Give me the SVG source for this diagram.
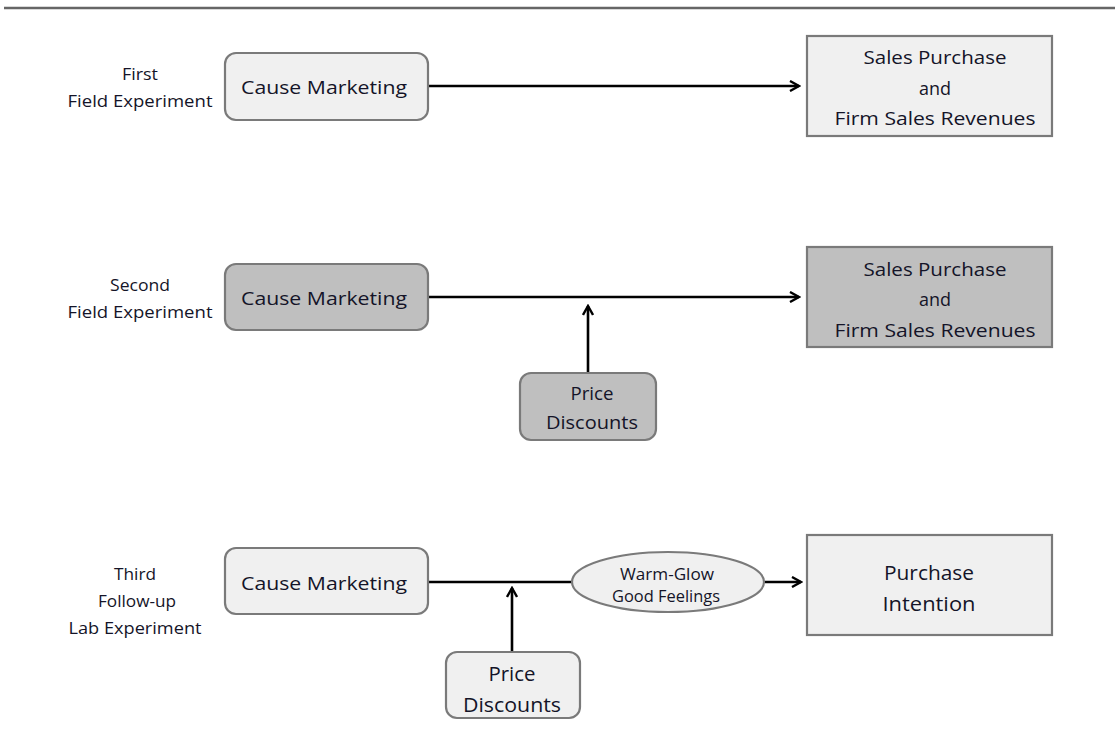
<svg xmlns="http://www.w3.org/2000/svg" width="1115" height="738" viewBox="0 0 1115 738">
<style>
text{font-family:"Open Sans","Liberation Sans",sans-serif;fill:#141428;text-anchor:middle}
.lab{font-size:16.5px}
.box{stroke:#7a7a7a;stroke-width:2.2}
.lt{fill:#f0f0f0}
.dk{fill:#bfbfbf}
.cn{stroke:#000;stroke-width:2.6;fill:none}
</style>
<defs>
<marker id="ah" viewBox="0 0 12 12" refX="10" refY="6" markerWidth="12" markerHeight="12" markerUnits="userSpaceOnUse" orient="auto">
<path d="M1,1 L10,6 L1,11" fill="none" stroke="#000" stroke-width="2.4"/>
</marker>
</defs>
<line x1="4" y1="8" x2="1115" y2="8" stroke="#666" stroke-width="2.4"/>

<g id="labels">
<text class="lab" x="140" y="80" textLength="36" lengthAdjust="spacingAndGlyphs">First</text>
<text class="lab" x="140" y="107" textLength="145" lengthAdjust="spacingAndGlyphs">Field  Experiment</text>
<text class="lab" x="140" y="291" textLength="60" lengthAdjust="spacingAndGlyphs">Second</text>
<text class="lab" x="140" y="318" textLength="145" lengthAdjust="spacingAndGlyphs">Field  Experiment</text>
<text class="lab" x="135" y="580" textLength="42" lengthAdjust="spacingAndGlyphs">Third</text>
<text class="lab" x="137" y="607" textLength="78" lengthAdjust="spacingAndGlyphs">Follow-up</text>
<text class="lab" x="135" y="634" textLength="133" lengthAdjust="spacingAndGlyphs">Lab  Experiment</text>
</g>

<g id="connectors">
<line class="cn" x1="428" y1="86" x2="799" y2="86" marker-end="url(#ah)"/>
<line class="cn" x1="428" y1="297" x2="799" y2="297" marker-end="url(#ah)"/>
<line class="cn" x1="588" y1="373" x2="588" y2="306" marker-end="url(#ah)"/>
<line class="cn" x1="428" y1="582" x2="573" y2="582"/>
<line class="cn" x1="765" y1="582" x2="801" y2="582" marker-end="url(#ah)"/>
<line class="cn" x1="512" y1="652" x2="512" y2="588" marker-end="url(#ah)"/>
</g>

<g id="cm1">
<rect class="box lt" x="225" y="53" width="203" height="67" rx="11"/>
<text x="324" y="94" font-size="19" textLength="166" lengthAdjust="spacingAndGlyphs">Cause  Marketing</text>
</g>
<g id="sales1">
<rect class="box lt" x="807" y="36" width="245" height="100"/>
<text x="935" y="64" font-size="18" textLength="143" lengthAdjust="spacingAndGlyphs">Sales  Purchase</text>
<text x="935" y="95" font-size="18" textLength="32" lengthAdjust="spacingAndGlyphs">and</text>
<text x="935" y="125" font-size="18" textLength="201" lengthAdjust="spacingAndGlyphs">Firm  Sales  Revenues</text>
</g>

<g id="cm2">
<rect class="box dk" x="225" y="264" width="203" height="66" rx="11"/>
<text x="324" y="305" font-size="19" textLength="166" lengthAdjust="spacingAndGlyphs">Cause  Marketing</text>
</g>
<g id="sales2">
<rect class="box dk" x="807" y="247" width="245" height="100"/>
<text x="935" y="276" font-size="18" textLength="143" lengthAdjust="spacingAndGlyphs">Sales  Purchase</text>
<text x="935" y="306" font-size="18" textLength="32" lengthAdjust="spacingAndGlyphs">and</text>
<text x="935" y="337" font-size="18" textLength="201" lengthAdjust="spacingAndGlyphs">Firm  Sales  Revenues</text>
</g>
<g id="pd2">
<rect class="box dk" x="520" y="373" width="136" height="67" rx="11"/>
<text x="592" y="400" font-size="18" textLength="43" lengthAdjust="spacingAndGlyphs">Price</text>
<text x="592" y="429" font-size="18" textLength="92" lengthAdjust="spacingAndGlyphs">Discounts</text>
</g>

<g id="cm3">
<rect class="box lt" x="225" y="548" width="203" height="66" rx="11"/>
<text x="324" y="590" font-size="19" textLength="166" lengthAdjust="spacingAndGlyphs">Cause  Marketing</text>
</g>
<g id="wg">
<ellipse class="box lt" cx="668" cy="582" rx="96" ry="30"/>
<text x="667" y="580" font-size="15.5" textLength="94" lengthAdjust="spacingAndGlyphs">Warm-Glow</text>
<text x="666" y="602" font-size="15.5" textLength="108" lengthAdjust="spacingAndGlyphs">Good  Feelings</text>
</g>
<g id="pi">
<rect class="box lt" x="807" y="535" width="245" height="100"/>
<text x="929" y="580" font-size="20" textLength="90" lengthAdjust="spacingAndGlyphs">Purchase</text>
<text x="929" y="611" font-size="20" textLength="93" lengthAdjust="spacingAndGlyphs">Intention</text>
</g>
<g id="pd3">
<rect class="box lt" x="446" y="652" width="134" height="66" rx="11"/>
<text x="512" y="681" font-size="20" textLength="47" lengthAdjust="spacingAndGlyphs">Price</text>
<text x="512" y="712" font-size="20" textLength="98" lengthAdjust="spacingAndGlyphs">Discounts</text>
</g>
</svg>
